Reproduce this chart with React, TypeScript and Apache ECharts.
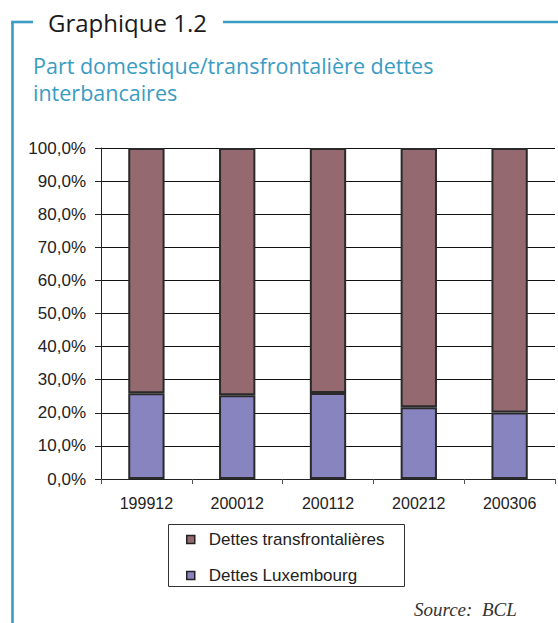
import React, { useEffect, useRef } from "react";
import * as echarts from "echarts";

const categories = ["199912", "200012", "200112", "200212", "200306"];
const luxembourg = [25.9, 25.3, 26.0, 21.7, 20.1];
const transfrontalieres = [74.1, 74.7, 74.0, 78.3, 79.9];
const legendNames = ["Dettes transfrontalières", "Dettes Luxembourg"];

export default function App() {
  const ref = useRef<HTMLDivElement>(null);
  useEffect(() => {
    const chart = echarts.init(ref.current!, undefined, { renderer: "svg" });
    const frameColor = "#3a9cc3";
    chart.setOption({
      animation: false,
      backgroundColor: "#ffffff",
      textStyle: { fontFamily: "Liberation Sans, Arial, sans-serif" },
      graphic: [
        { type: "line", shape: { x1: 12.5, y1: 22, x2: 12.5, y2: 623 }, style: { stroke: frameColor, lineWidth: 2.6 } },
        { type: "line", shape: { x1: 11.2, y1: 22, x2: 33, y2: 22 }, style: { stroke: frameColor, lineWidth: 2.6 } },
        { type: "line", shape: { x1: 223, y1: 22, x2: 558, y2: 22 }, style: { stroke: frameColor, lineWidth: 2.6 } },
        {
          type: "text", left: 48, top: 10,
          style: { text: "Graphique 1.2", fontSize: 24, fontFamily: "Open Sans, Noto Sans, sans-serif", fill: "#1a1a1a" },
        },
        {
          type: "text", left: 33, top: 52,
          style: {
            text: "Part domestique/transfrontalière dettes\ninterbancaires",
            fontSize: 21.5, lineHeight: 27, fontFamily: "Open Sans, Noto Sans, sans-serif", fill: "#3a9cc3",
          },
        },
        {
          type: "rect", shape: { x: 168.5, y: 524.5, width: 236, height: 62 },
          style: { fill: "none", stroke: "#333333", lineWidth: 1 },
        },
        {
          type: "text", left: 414, top: 600,
          style: { text: "Source:  BCL", fontSize: 19, fontStyle: "italic", fontFamily: "Liberation Serif, serif", fill: "#333333" },
        },
      ],
      legend: {
        orient: "vertical",
        left: 186,
        top: 531,
        data: legendNames,
        icon: "rect",
        itemWidth: 8,
        itemHeight: 8,
        itemGap: 19,
        padding: 0,
        itemStyle: { borderColor: "#222222", borderWidth: 1.5 },
        textStyle: { fontSize: 17, color: "#222222", padding: [0, 0, 0, 9], fontFamily: "Liberation Sans, Arial, sans-serif" },
      },
      grid: { left: 101, top: 148, right: 3, bottom: 144, containLabel: false },
      xAxis: {
        type: "category",
        data: categories,
        axisLine: { lineStyle: { color: "#222222", width: 1 } },
        axisTick: { show: true, length: 5, lineStyle: { color: "#555555" } },
        axisLabel: { fontSize: 16, color: "#222222", margin: 16 },
      },
      yAxis: {
        type: "value",
        min: 0,
        max: 100,
        interval: 10,
        axisLine: { show: true, lineStyle: { color: "#222222" } },
        axisTick: { show: true, length: 6, lineStyle: { color: "#222222" } },
        axisLabel: {
          fontSize: 17, color: "#222222", margin: 15,
          formatter: (v: number) => v.toFixed(1).replace(".", ",") + "%",
        },
        splitLine: { show: true, lineStyle: { color: "#111111", width: 1 } },
      },
      series: [
        {
          name: "Dettes Luxembourg",
          type: "bar",
          stack: "total",
          data: luxembourg,
          barWidth: "40%",
          itemStyle: { color: "#8884c0", borderColor: "#2a2a2a", borderWidth: 2 },
        },
        {
          name: "Dettes transfrontalières",
          type: "bar",
          stack: "total",
          data: transfrontalieres,
          barWidth: "40%",
          itemStyle: { color: "#946a70", borderColor: "#2a2a2a", borderWidth: 2 },
        },
      ],
    });
    return () => chart.dispose();
  }, []);
  return <div ref={ref} style={{ position: "fixed", left: 0, top: 0, width: 558, height: 623 }} />;
}
